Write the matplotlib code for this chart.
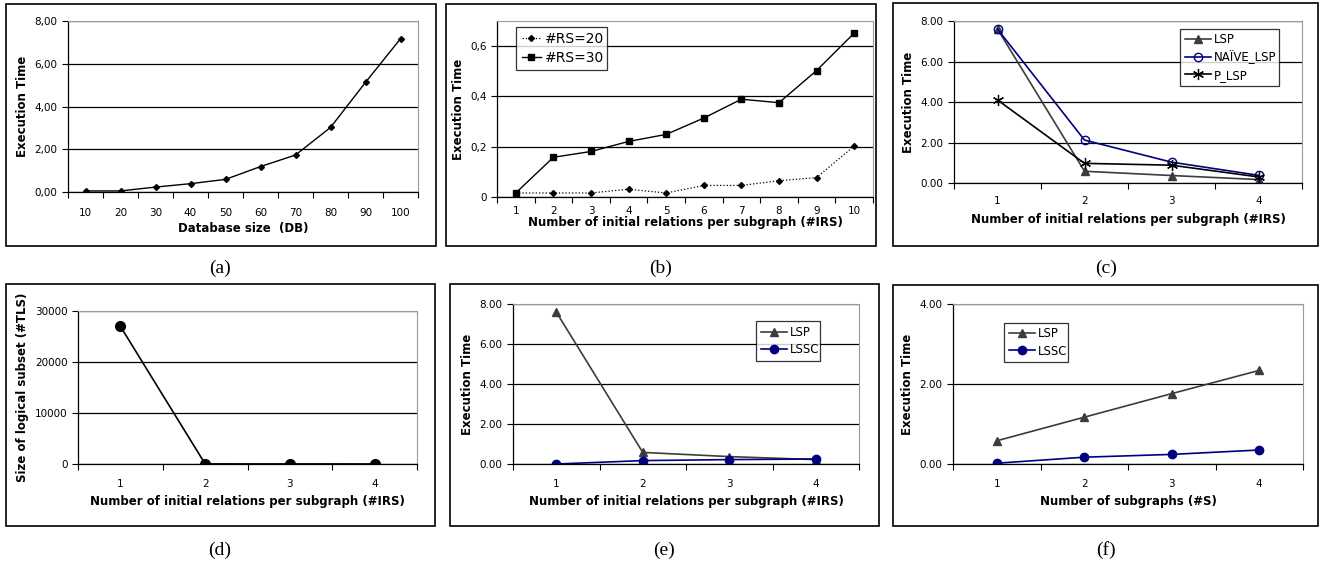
import matplotlib
matplotlib.use("Agg")
import matplotlib.pyplot as plt
from matplotlib.patches import Rectangle
from matplotlib.ticker import FuncFormatter

# ---- data -----------------------------------------------------------------
a_db = [10, 20, 30, 40, 50, 60, 70, 80, 90, 100]
a_time = [0.05, 0.05, 0.23, 0.39, 0.59, 1.19, 1.73, 3.02, 5.13, 7.17]

b_irs = [1, 2, 3, 4, 5, 6, 7, 8, 9, 10]
b_rs20 = [0.016, 0.016, 0.016, 0.031, 0.016, 0.046, 0.046, 0.065, 0.077, 0.203]
b_rs30 = [0.016, 0.158, 0.181, 0.221, 0.249, 0.314, 0.389, 0.375, 0.503, 0.652]

c_irs = [1, 2, 3, 4]
c_lsp = [7.60, 0.58, 0.37, 0.17]
c_naive = [7.60, 2.12, 1.03, 0.38]
c_plsp = [4.10, 0.97, 0.88, 0.30]

d_irs = [1, 2, 3, 4]
d_tls = [27000, 20, 10, 5]

e_irs = [1, 2, 3, 4]
e_lsp = [7.60, 0.58, 0.37, 0.22]
e_lssc = [0.00, 0.17, 0.22, 0.25]

f_s = [1, 2, 3, 4]
f_lsp = [0.58, 1.17, 1.76, 2.34]
f_lssc = [0.02, 0.17, 0.24, 0.35]

W, H = 1320, 566
NAVY = "#000080"
DARK = "#3c3c3c"

plt.rcParams["font.family"] = "DejaVu Sans"

fig = plt.figure(figsize=(W / 100, H / 100), dpi=100)


def px_axes(x0, y0, x1, y1):
    return fig.add_axes([x0 / W, 1 - y1 / H, (x1 - x0) / W, (y1 - y0) / H])


def frame(x0, y0, x1, y1):
    fig.patches.append(Rectangle((x0 / W, 1 - y1 / H), (x1 - x0) / W, (y1 - y0) / H,
                                 transform=fig.transFigure, fill=False,
                                 edgecolor="black", lw=1.2))


def style(ax, cats, ymax, yticks, fmt, xlabel, ylabel, pad=11, labelpad=4):
    n = len(cats)
    ax.set_xlim(0.5, n + 0.5)
    ax.set_ylim(0, ymax)
    ax.set_xticks(range(1, n + 1))
    ax.set_xticklabels([str(c) for c in cats])
    ax.set_xticks([i + 0.5 for i in range(0, n + 1)], minor=True)
    ax.tick_params(axis="x", which="major", length=0, pad=pad, labelsize=7.5)
    ax.tick_params(axis="x", which="minor", length=4, width=0.8, direction="out")
    ax.set_yticks(yticks)
    ax.yaxis.set_major_formatter(FuncFormatter(fmt))
    ax.tick_params(axis="y", length=4, width=0.8, direction="out", labelsize=7.5)
    ax.yaxis.grid(True, color="black", lw=0.9)
    ax.set_axisbelow(True)
    for s in ("top", "right"):
        ax.spines[s].set_color("#9a9a9a")
        ax.spines[s].set_linewidth(0.8)
    for s in ("left", "bottom"):
        ax.spines[s].set_color("black")
        ax.spines[s].set_linewidth(0.9)
    ax.set_xlabel(xlabel, fontsize=8.5, fontweight="bold", labelpad=labelpad)
    ax.set_ylabel(ylabel, fontsize=8.5, fontweight="bold", labelpad=4)


def legend(ax, x0, y0, x1, y1, size=8.5, hl=2.2):
    bx = (x0 / W, 1 - y1 / H, (x1 - x0) / W, (y1 - y0) / H)
    leg = ax.legend(loc="center", bbox_to_anchor=bx, bbox_transform=fig.transFigure,
                    mode="expand", fontsize=size, frameon=True, fancybox=False,
                    handlelength=hl, handletextpad=0.25, borderpad=0.4,
                    labelspacing=0.35, borderaxespad=0)
    leg.get_frame().set_edgecolor("black")
    leg.get_frame().set_linewidth(0.9)
    return leg


comma2 = lambda v, p: f"{v:.2f}".replace(".", ",")
comma1 = lambda v, p: "0" if v == 0 else f"{v:.1f}".replace(".", ",")
dot2 = lambda v, p: f"{v:.2f}"
intf = lambda v, p: f"{v:.0f}"

xl_irs = "Number of initial relations per subgraph (#IRS)"

# (a)
frame(6, 4, 436, 246)
ax = px_axes(68, 21, 418, 192)
xa = range(1, len(a_db) + 1)
ax.plot(xa, a_time, color="black", lw=1, marker="D", ms=3)
style(ax, a_db, 8, [0, 2, 4, 6, 8], comma2, "Database size  (DB)", "Execution Time",
      pad=11.5, labelpad=3)

# (b)
frame(446, 4, 876, 246)
ax = px_axes(497, 21, 873, 197)
xb = range(1, len(b_irs) + 1)
ax.plot(xb, b_rs20, color="black", lw=0.9, ls=":", marker="D", ms=3, label="#RS=20")
ax.plot(xb, b_rs30, color="black", lw=1, marker="s", ms=4, label="#RS=30")
style(ax, b_irs, 0.7, [0, 0.2, 0.4, 0.6], comma1, xl_irs, "Execution Time",
      pad=6.5, labelpad=0)
legend(ax, 516, 27, 607, 70, size=10, hl=1.4)

# (c)
frame(893, 3, 1318, 246)
ax = px_axes(954, 21, 1302, 183)
xc = range(1, len(c_irs) + 1)
ax.plot(xc, c_lsp, color=DARK, lw=1.2, marker="^", ms=6, label="LSP")
ax.plot(xc, c_naive, color=NAVY, lw=1.2, marker="o", ms=6, mfc="none", label="NAÏVE_LSP")
ax.plot(xc, c_plsp, color="black", lw=1.2, marker=(6, 2, 0), ms=8, mew=0.9, label="P_LSP")
style(ax, c_irs, 8, [0, 2, 4, 6, 8], dot2, xl_irs, "Execution Time",
      pad=9.5, labelpad=5)
legend(ax, 1180, 29, 1279, 86)

# (d)
frame(6, 284, 435, 526)
ax = px_axes(78, 311, 417, 464)
xd = range(1, len(d_irs) + 1)
ax.plot(xd, d_tls, color="black", lw=1.2, marker="o", ms=7)
style(ax, d_irs, 30000, [0, 10000, 20000, 30000], intf, xl_irs,
      "Size of logical subset (#TLS)")

# (e)
frame(450, 284, 879, 526)
ax = px_axes(513, 304, 859, 464)
xe = range(1, len(e_irs) + 1)
ax.plot(xe, e_lsp, color=DARK, lw=1.2, marker="^", ms=6, label="LSP")
ax.plot(xe, e_lssc, color=NAVY, lw=1.2, marker="o", ms=6, label="LSSC")
style(ax, e_irs, 8, [0, 2, 4, 6, 8], dot2, xl_irs, "Execution Time")
legend(ax, 756, 322, 820, 360)

# (f)
frame(893, 285, 1318, 526)
ax = px_axes(953, 304, 1303, 464)
xf = range(1, len(f_s) + 1)
ax.plot(xf, f_lsp, color=DARK, lw=1.2, marker="^", ms=6, label="LSP")
ax.plot(xf, f_lssc, color=NAVY, lw=1.2, marker="o", ms=6, label="LSSC")
style(ax, f_s, 4, [0, 2, 4], dot2, "Number of subgraphs (#S)", "Execution Time")
legend(ax, 1004, 323, 1068, 362)

# captions
for lab, cx, cy in [("(a)", 220, 268), ("(b)", 661, 268), ("(c)", 1106, 268),
                    ("(d)", 220, 550), ("(e)", 664, 550), ("(f)", 1106, 550)]:
    fig.text(cx / W, 1 - cy / H, lab, ha="center", va="center",
             family="Liberation Serif", fontsize=14)

fig.savefig("out.png", dpi=100)
